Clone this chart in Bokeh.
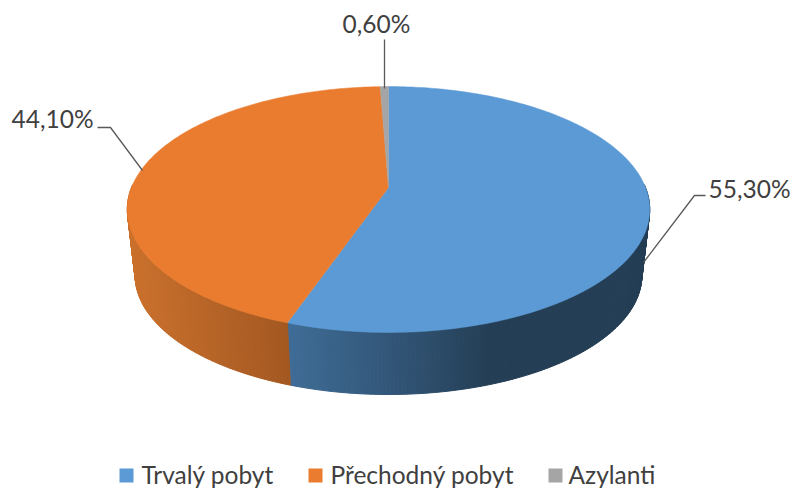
import math
from bokeh.plotting import figure
from bokeh.embed import file_html
from bokeh.resources import INLINE
from bokeh.core.properties import value

categories = ["Trvalý pobyt", "Přechodný pobyt", "Azylanti"]
shares = [55.3, 44.1, 0.6]
labels = ["55,30%", "44,10%", "0,60%"]
colors = ["#5b9ad5", "#ea7c30", "#a5a5a5"]

# side shading stops: (screen x, rgb)
side_stops = [
    [(288, (63, 108, 150)), (390, (50, 86, 120)), (490, (36, 62, 85)), (650, (36, 62, 85))],
    [(125, (203, 113, 45)), (288, (163, 88, 33))],
    [(370, (120, 120, 120)), (400, (120, 120, 120))],
]

CX, CY, CYB = 388.0, 187.0, 253.4
R, A, K, SCALE = 257.0, 119.0, 0.179, 0.97


def top(t):
    u, v = math.sin(t), math.cos(t)
    d = 1 + K * v
    return CX + R * u / d, CY - A * v / d


def bottom(t):
    u, v = math.sin(t), math.cos(t)
    d = 1 + K * v
    return CX + SCALE * R * u / d, CYB - SCALE * A * v / d


def shade(stops, x):
    if x <= stops[0][0]:
        return stops[0][1]
    for (x0, c0), (x1, c1) in zip(stops, stops[1:]):
        if x <= x1:
            f = (x - x0) / (x1 - x0)
            return tuple(c0[i] + (c1[i] - c0[i]) * f for i in range(3))
    return stops[-1][1]


p = figure(width=791, height=488, x_range=(0, 791), y_range=(488, 0),
           output_backend="svg", toolbar_location=None, min_border=0)
p.axis.visible = False
p.grid.visible = False
p.outline_line_color = None
p.background_fill_color = "white"

bounds = []
acc = 0.0
for s in shares:
    bounds.append((acc / 100 * 2 * math.pi, (acc + s) / 100 * 2 * math.pi))
    acc += s

# side wall
xs, ys, cs = [], [], []
for (a0, a1), stops in zip(bounds, side_stops):
    n = max(2, int((a1 - a0) / math.radians(0.75)))
    for i in range(n):
        t0 = a0 + (a1 - a0) * i / n
        t1 = a0 + (a1 - a0) * (i + 1) / n
        if math.cos((t0 + t1) / 2) > 0.02:
            continue
        x0, y0 = top(t0)
        x1, y1 = top(t1)
        x2, y2 = bottom(t1)
        x3, y3 = bottom(t0)
        c = shade(stops, (x0 + x1) / 2)
        xs.append([x0, x1, x2, x3])
        ys.append([y0, y1, y2, y3])
        cs.append("#%02x%02x%02x" % tuple(int(round(v)) for v in c))
p.patches(xs, ys, fill_color=cs, line_color=cs, line_width=1)

# top face
for (a0, a1), col in zip(bounds, colors):
    n = max(3, int((a1 - a0) / math.radians(1)))
    pts = [top(a0 + (a1 - a0) * i / n) for i in range(n + 1)]
    px = [CX] + [q[0] for q in pts]
    py = [CY] + [q[1] for q in pts]
    p.patch(px, py, fill_color=col, line_color=col, line_width=0.5)

# leader lines and labels
leader_x = [[643, 694, 705], [97, 110, 142], [384, 384]]
leader_y = [[262, 195, 195], [127, 127, 170], [39, 88]]
p.multi_line(leader_x, leader_y, line_color="#595959", line_width=1.3)

font = value("Lato")
p.text([708, 11, 342], [188, 118, 23], text=labels, text_font=font,
       text_font_size="24.5px", text_color="#404040",
       text_align="left", text_baseline="middle")

# legend
p.rect([126, 315, 555], [475, 475, 475], width=14, height=14, fill_color=colors,
       line_color=None)
p.text([141, 330, 568], [474, 474, 474], text=categories, text_font=font,
       text_font_size="24.5px", text_color="#404040",
       text_align="left", text_baseline="middle")

open("out.html", "w").write(file_html(p, INLINE))
